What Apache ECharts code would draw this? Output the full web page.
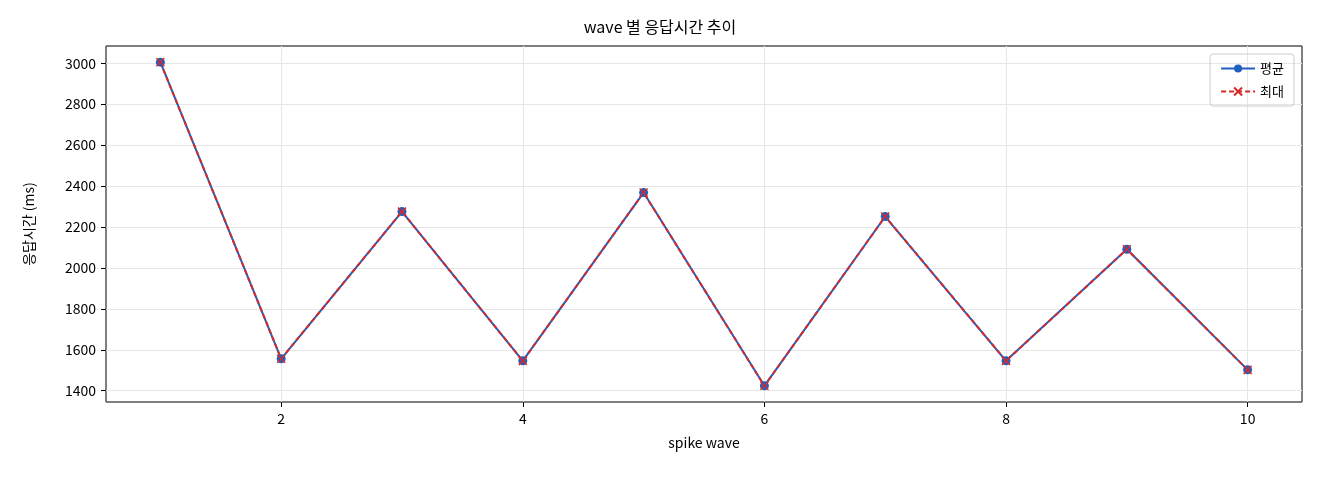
<!DOCTYPE html>
<html><head><meta charset="utf-8">
<script src="https://cdn.jsdelivr.net/npm/echarts@6/dist/echarts.min.js"></script>
<style>html,body{margin:0;padding:0;background:#fff}#c{width:1320px;height:480px}</style>
</head><body><div id="c"></div>
<script>
const waves = [1,2,3,4,5,6,7,8,9,10];
const avgValues = [3005,1556,2275,1546,2368,1424,2251,1546,2091,1502];
const maxValues = [3005,1556,2275,1546,2368,1424,2251,1546,2091,1502];
const xTicks = [2,4,6,8,10];
const yTicks = [1400,1600,1800,2000,2200,2400,2600,2800,3000];
const F = '"Noto Sans CJK KR", "DejaVu Sans", sans-serif';
const chart = echarts.init(document.getElementById('c'));
chart.setOption({
  animation:false,
  title:{text:'wave 별 응답시간 추이',left:'center',top:14,textStyle:{fontFamily:F,fontSize:16,fontWeight:'normal',color:'#000'}},
  legend:{right:26,top:54,orient:'vertical',itemGap:10,borderColor:'#ccc',borderWidth:1,borderRadius:3,padding:[8,10],
    textStyle:{fontFamily:F,fontSize:13,color:'#000'},itemWidth:34,itemHeight:10,
    data:['평균','최대']},
  grid:{left:106,right:18,top:46,bottom:78,show:true,borderColor:'#000',borderWidth:1},
  xAxis:{type:'value',min:0.55,max:10.45,name:'spike wave',nameLocation:'middle',nameGap:34,
    nameTextStyle:{fontFamily:F,fontSize:14,color:'#000'},
    axisLine:{show:false},axisTick:{show:true,customValues:xTicks,length:5,lineStyle:{color:'#000'}},
    axisLabel:{customValues:xTicks,fontFamily:F,fontSize:14,color:'#000',margin:10},
    splitLine:{show:true,customValues:xTicks,lineStyle:{color:'#e6e6e6'}}},
  yAxis:{type:'value',min:1345,max:3084,name:'응답시간 (ms)',nameLocation:'middle',nameGap:70,nameRotate:90,
    nameTextStyle:{fontFamily:F,fontSize:14,color:'#000'},
    axisLine:{show:false},axisTick:{show:true,customValues:yTicks,length:5,lineStyle:{color:'#000'}},
    axisLabel:{customValues:yTicks,formatter:v=>String(v),fontFamily:F,fontSize:14,color:'#000',margin:10},
    splitLine:{show:true,customValues:yTicks,lineStyle:{color:'#e6e6e6'}}},
  series:[
    {name:'평균',type:'line',data:waves.map((w,i)=>[w,avgValues[i]]),symbol:'circle',symbolSize:9,
     itemStyle:{color:'#1f5fbf'},lineStyle:{color:'#1f5fbf',width:2}},
    {name:'최대',type:'line',data:waves.map((w,i)=>[w,maxValues[i]]),
     symbol:'path://M-1,-1L1,1M1,-1L-1,1',symbolSize:8,
     itemStyle:{color:'#d62a2a',borderColor:'#d62a2a',borderWidth:1.5},lineStyle:{color:'#d62a2a',width:2,type:[5,3]}}
  ]
});
</script></body></html>
